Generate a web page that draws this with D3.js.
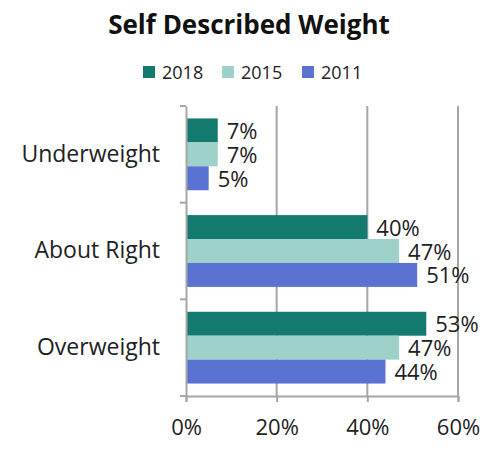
<!DOCTYPE html>
<html>
<head>
<meta charset="utf-8">
<script src="https://cdn.jsdelivr.net/npm/d3@7"></script>
<style>
  body { margin: 0; background: #fff; }
  svg { display: block; font-family: "Open Sans", "Noto Sans", sans-serif; }
</style>
</head>
<body>
<div id="chart"></div>
<script>
// dati
var categories = ["Underweight", "About Right", "Overweight"];
var seriesNames = ["2018", "2015", "2011"];
var values2018 = [7, 40, 53];
var values2015 = [7, 47, 47];
var values2011 = [5, 51, 44];
var xTicks = [0, 20, 40, 60];
var colors = ["#137a70", "#9fd1cb", "#5a72d2"];

var width = 487, height = 451;
var margin = { top: 106, right: 29, bottom: 55, left: 186 };

var svg = d3.select("#chart").append("svg")
  .attr("width", width)
  .attr("height", height);

// costruisco la tabella per le barre
var seriesValues = [values2018, values2015, values2011];
var rows = [];
categories.forEach(function (c, i) {
  seriesNames.forEach(function (s, j) {
    rows.push({ cat: c, series: s, value: seriesValues[j][i], idx: j });
  });
});

var x = d3.scaleLinear().domain([0, 60]).range([margin.left, width - margin.right]);
var y = d3.scaleBand().domain(categories).range([margin.top, height - margin.bottom]);
var y1 = d3.scaleBand().domain(seriesNames).range([0, y.bandwidth()]).paddingOuter(0.52);

// griglia verticale
svg.append("g").selectAll("line")
  .data(xTicks.slice(1))
  .enter().append("line")
  .attr("x1", function (d) { return x(d); })
  .attr("x2", function (d) { return x(d); })
  .attr("y1", margin.top)
  .attr("y2", height - margin.bottom)
  .attr("stroke", "#a6a6a6")
  .attr("stroke-width", 2);

// barre
svg.append("g").selectAll("rect")
  .data(rows)
  .enter().append("rect")
  .attr("x", x(0))
  .attr("y", function (d) { return y(d.cat) + y1(d.series); })
  .attr("width", function (d) { return x(d.value) - x(0); })
  .attr("height", y1.bandwidth())
  .attr("fill", function (d) { return colors[d.idx]; });

// etichette dei valori
svg.append("g").selectAll("text")
  .data(rows)
  .enter().append("text")
  .attr("x", function (d) { return x(d.value) + 9; })
  .attr("y", function (d) { return y(d.cat) + y1(d.series) + y1.bandwidth() / 2 + 8.5; })
  .attr("font-size", "22px")
  .attr("fill", "#222")
  .text(function (d) { return d.value + "%"; });

// asse x
var xAxis = svg.append("g")
  .attr("transform", "translate(0," + (height - margin.bottom) + ")")
  .call(d3.axisBottom(x).tickValues(xTicks).tickFormat(function (d) { return d + "%"; }).tickSize(6).tickPadding(17));
xAxis.select(".domain").attr("stroke", "#a6a6a6").attr("stroke-width", 2);
xAxis.selectAll(".tick line").attr("stroke", "#a6a6a6").attr("stroke-width", 2);
xAxis.selectAll(".tick text").attr("font-size", "22px").attr("fill", "#222")
  .attr("font-family", "Open Sans, sans-serif");

// asse y
var yAxis = svg.append("g")
  .attr("transform", "translate(" + margin.left + ",0)")
  .call(d3.axisLeft(y).tickSize(0).tickPadding(26));
yAxis.select(".domain").attr("stroke", "#a6a6a6").attr("stroke-width", 2);
yAxis.selectAll(".tick text").attr("font-size", "23px").attr("fill", "#222")
  .attr("font-family", "Open Sans, sans-serif");
// tacche ai confini delle categorie
var bounds = categories.map(function (c) { return y(c); }).concat([y.range()[1]]);
svg.append("g").selectAll("line")
  .data(bounds)
  .enter().append("line")
  .attr("x1", margin.left - 6)
  .attr("x2", margin.left)
  .attr("y1", function (d) { return d; })
  .attr("y2", function (d) { return d; })
  .attr("stroke", "#a6a6a6")
  .attr("stroke-width", 2);

// titolo
svg.append("text")
  .attr("x", 249)
  .attr("y", 34)
  .attr("text-anchor", "middle")
  .attr("font-size", "26px")
  .attr("font-weight", "bold")
  .attr("fill", "#111")
  .text("Self Described Weight");

// legenda
var legendX = [143, 222, 302];
var legend = svg.append("g").selectAll("g")
  .data(seriesNames)
  .enter().append("g")
  .attr("transform", function (d, i) { return "translate(" + legendX[i] + ",66)"; });
legend.append("rect")
  .attr("width", 12).attr("height", 12)
  .attr("fill", function (d, i) { return colors[i]; });
legend.append("text")
  .attr("x", 19)
  .attr("y", 12.5)
  .attr("font-size", "18px")
  .attr("fill", "#222")
  .text(function (d) { return d; });
</script>
</body>
</html>
